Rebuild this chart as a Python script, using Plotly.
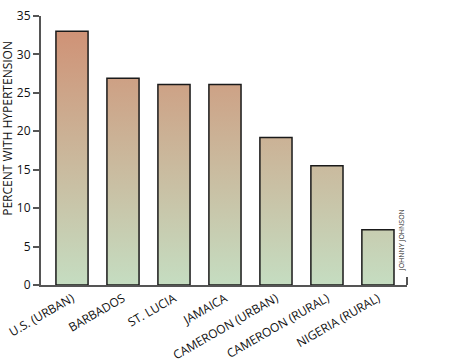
import plotly.graph_objects as go

categories = ["U.S. (URBAN)", "BARBADOS", "ST. LUCIA", "JAMAICA",
              "CAMEROON (URBAN)", "CAMEROON (RURAL)", "NIGERIA (RURAL)"]
values = [33.0, 26.9, 26.1, 26.1, 19.2, 15.5, 7.2]
y_ticks = [0, 5, 10, 15, 20, 25, 30, 35]

bar_w = 0.63
xs, ys = [], []
for i, v in enumerate(values):
    xs += [i - bar_w / 2, i - bar_w / 2, i + bar_w / 2, i + bar_w / 2, i - bar_w / 2, None]
    ys += [0, v, v, 0, 0, None]

fig = go.Figure()
fig.add_trace(go.Scatter(
    x=xs, y=ys, mode="lines", fill="toself",
    line=dict(color="#1a1a1a", width=1.5),
    fillgradient=dict(type="vertical", start=0, stop=35,
                      colorscale=[[0, "#C5DDC1"], [1, "#D08E72"]]),
    hoverinfo="skip", showlegend=False,
))

fig.update_layout(
    width=464, height=364,
    margin=dict(l=41, r=57, t=16, b=79),
    plot_bgcolor="white", paper_bgcolor="white",
    font=dict(family="Open Sans", size=12, color="#111"),
    xaxis=dict(range=[-0.608, 6.57], tickvals=list(range(len(categories))),
               ticktext=categories, tickangle=-30, showgrid=False, zeroline=False,
               showline=True, linecolor="#555", linewidth=2, ticks="",
               tickfont=dict(size=12), automargin=False),
    yaxis=dict(range=[0, 35], tickvals=y_ticks, showgrid=False, zeroline=False,
               showline=True, linecolor="#555", linewidth=2, ticks="outside",
               ticklen=6, tickcolor="#555", tickwidth=2, tickfont=dict(size=12),
               automargin=False),
    annotations=[
        dict(text="PERCENT WITH HYPERTENSION", textangle=-90, xref="paper", yref="paper",
             x=-0.092, y=0.582, xanchor="center", yanchor="middle", showarrow=False,
             font=dict(size=12)),
        dict(text="JOHNNY JOHNSON", textangle=-90, xref="paper", yref="paper",
             x=0.984, y=0.167, xanchor="center", yanchor="middle", showarrow=False,
             font=dict(size=7, color="#222")),
    ],
    shapes=[dict(type="line", xref="paper", yref="paper", x0=1, x1=1, y0=0, y1=0.03,
                 line=dict(color="#555", width=2))],
)

fig.write_html("out.html", config={"displayModeBar": False},
               post_script="document.body.style.margin='0';document.body.style.overflow='hidden';")
